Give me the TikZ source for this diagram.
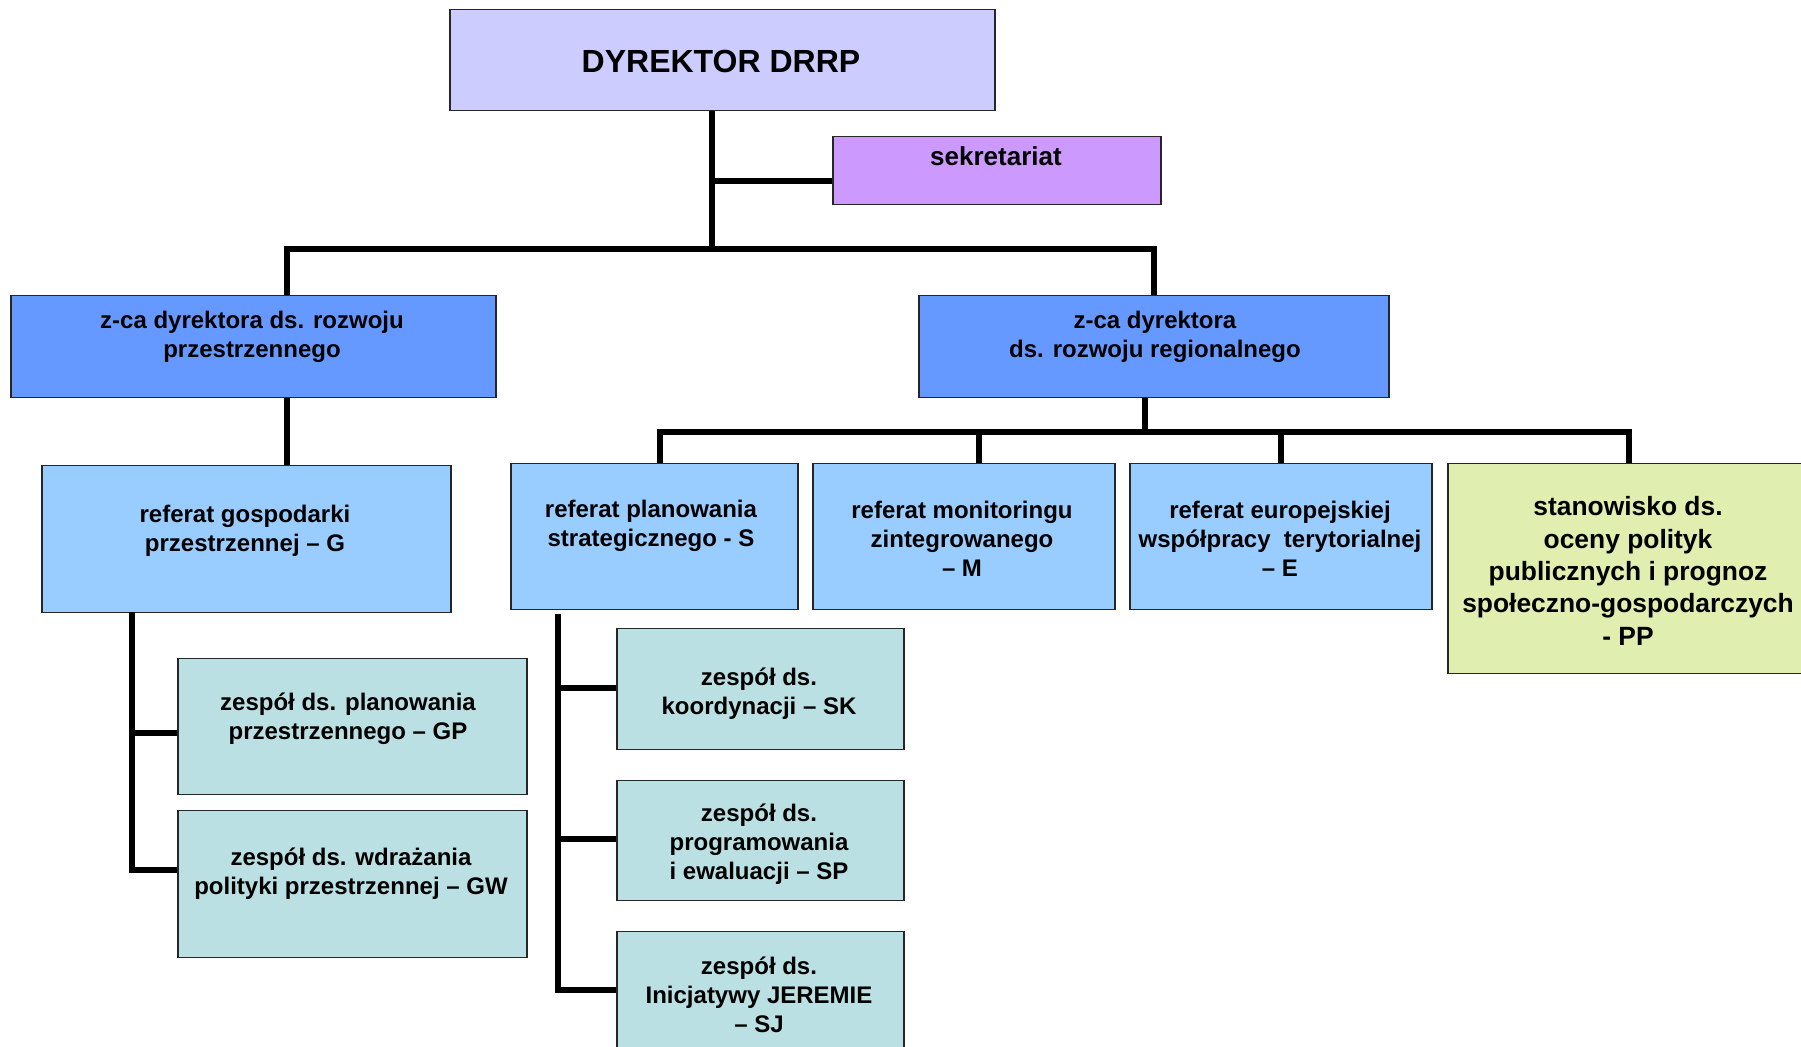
\documentclass[tikz,border=0pt]{standalone}
\usepackage{fontspec}
\setmainfont{Liberation Sans}
\usetikzlibrary{calc}
\definecolor{cDyr}{HTML}{CCCCFF}
\definecolor{cSek}{HTML}{CC99FF}
\definecolor{cZca}{HTML}{6699FF}
\definecolor{cRef}{HTML}{99CCFF}
\definecolor{cZes}{HTML}{BBE0E3}
\definecolor{cPP}{HTML}{E0EEB0}
\begin{document}
\begin{tikzpicture}[x=0.5pt,y=-0.5pt,
  box/.style={draw=black!85, line width=0.75pt, inner sep=0pt, anchor=north west},
  txt/.style={font=\bfseries\fontsize{12}{14.5}\selectfont, align=center, inner sep=0pt},
  conn/.style={line width=2.6pt, line join=miter}]
\useasboundingbox (0,0) rectangle (1801,1047);
% boxes
\node[box, fill=cDyr, minimum width=272.5pt, minimum height=50.5pt] (dyr) at (449,9) {};
\node[box, fill=cSek, minimum width=164pt, minimum height=34pt] (sek) at (832,136) {};
\node[box, fill=cZca, minimum width=242.5pt, minimum height=51pt] (zL) at (10,295) {};
\node[box, fill=cZca, minimum width=235pt, minimum height=51pt] (zR) at (918,295) {};
\node[box, fill=cRef, minimum width=204.5pt, minimum height=73.5pt] (G) at (41,465) {};
\node[box, fill=cRef, minimum width=143.5pt, minimum height=73pt] (S) at (510,463) {};
\node[box, fill=cRef, minimum width=151pt, minimum height=73pt] (M) at (812,463) {};
\node[box, fill=cRef, minimum width=151pt, minimum height=73pt] (E) at (1129,463) {};
\node[box, fill=cPP, minimum width=181.5pt, minimum height=105pt] (PP) at (1447,463) {};
\node[box, fill=cZes, minimum width=174.5pt, minimum height=68pt] (GP) at (177,658) {};
\node[box, fill=cZes, minimum width=174.5pt, minimum height=73.5pt] (GW) at (177,810) {};
\node[box, fill=cZes, minimum width=143.5pt, minimum height=60.5pt] (SK) at (616,628) {};
\node[box, fill=cZes, minimum width=143.5pt, minimum height=60pt] (SP) at (616,780) {};
\node[box, fill=cZes, minimum width=143.5pt, minimum height=64.5pt] (SJ) at (616,931) {};
% texts
\node[txt, font=\bfseries\fontsize{16}{19}\selectfont] (tdyr) at (721,61) {DYREKTOR DRRP};
\node[txt, font=\bfseries\fontsize{13}{15}\selectfont] (tsek) at (996,156) {sekretariat};
\node[txt] (tzL) at (252,337) {z-ca dyrektora ds. rozwoju\\przestrzennego};
\node[txt] (tzR) at (1155,337) {z-ca dyrektora\\ds. rozwoju regionalnego};
\node[txt] (tG) at (245,531) {referat gospodarki\\ przestrzennej – G};
\node[txt] (tS) at (651,525.5) {referat planowania\\strategicznego - S};
\node[txt] (tM) at (962,539) {referat monitoringu\\zintegrowanego\\– M};
\node[txt] (tE) at (1280,539) {referat europejskiej\\współpracy\ \ terytorialnej\\– E};
\node[txt, font=\bfseries\fontsize{13.2}{16.2}\selectfont] (tPP) at (1628,571) {stanowisko ds.\\oceny polityk\\publicznych i prognoz\\społeczno-gospodarczych\\- PP};
\node[txt] (tGP) at (348,718.5) {zespół ds. planowania\\ przestrzennego – GP};
\node[txt] (tGW) at (351,873.5) {zespół ds. wdrażania\\polityki przestrzennej – GW};
\node[txt] (tSK) at (759,693.5) {zespół ds.\\ koordynacji – SK};
\node[txt] (tSP) at (759,844) {zespół ds.\\programowania\\i ewaluacji – SP};
\node[txt] (tSJ) at (759,995) {zespół ds.\\Inicjatywy JEREMIE\\– SJ};
% junction coordinates
\coordinate (j1) at (712,249);
\coordinate (j2) at (712,181);
\coordinate (hl) at (287,249);
\coordinate (hr) at (1154,249);
\coordinate (k1) at (1145,432);
\coordinate (kl) at (660,432);
\coordinate (kr) at (1629,432);
\coordinate (gT) at (132,612);
\coordinate (gB) at (132,870);
\coordinate (sT) at (558,614);
\coordinate (sB) at (558,990);
% connectors
\draw[conn] (dyr.south -| j1) -- (j1);
\draw[conn] (j2) -- (sek.west |- j2);
\draw[conn] (zL.north -| hl) -- (hl) -- (hr) -- (zR.north -| hr);
\draw[conn] (zL.south -| hl) -- (G.north -| hl);
\draw[conn] (zR.south -| k1) -- (k1);
\draw[conn] (S.north -| kl) -- (kl) -- (kr) -- (PP.north -| kr);
\draw[conn] (M.north -| 979,0) -- (979,432);
\draw[conn] (E.north -| 1281,0) -- (1281,432);
\draw[conn] (gT) -- (gB) -- (GW.west |- gB);
\draw[conn] (132,733) -- (GP.west |- 0,733);
\draw[conn] (sT) -- (sB) -- (SJ.west |- sB);
\draw[conn] (558,688) -- (SK.west |- 0,688);
\draw[conn] (558,839) -- (SP.west |- 0,839);
\end{tikzpicture}
\end{document}
